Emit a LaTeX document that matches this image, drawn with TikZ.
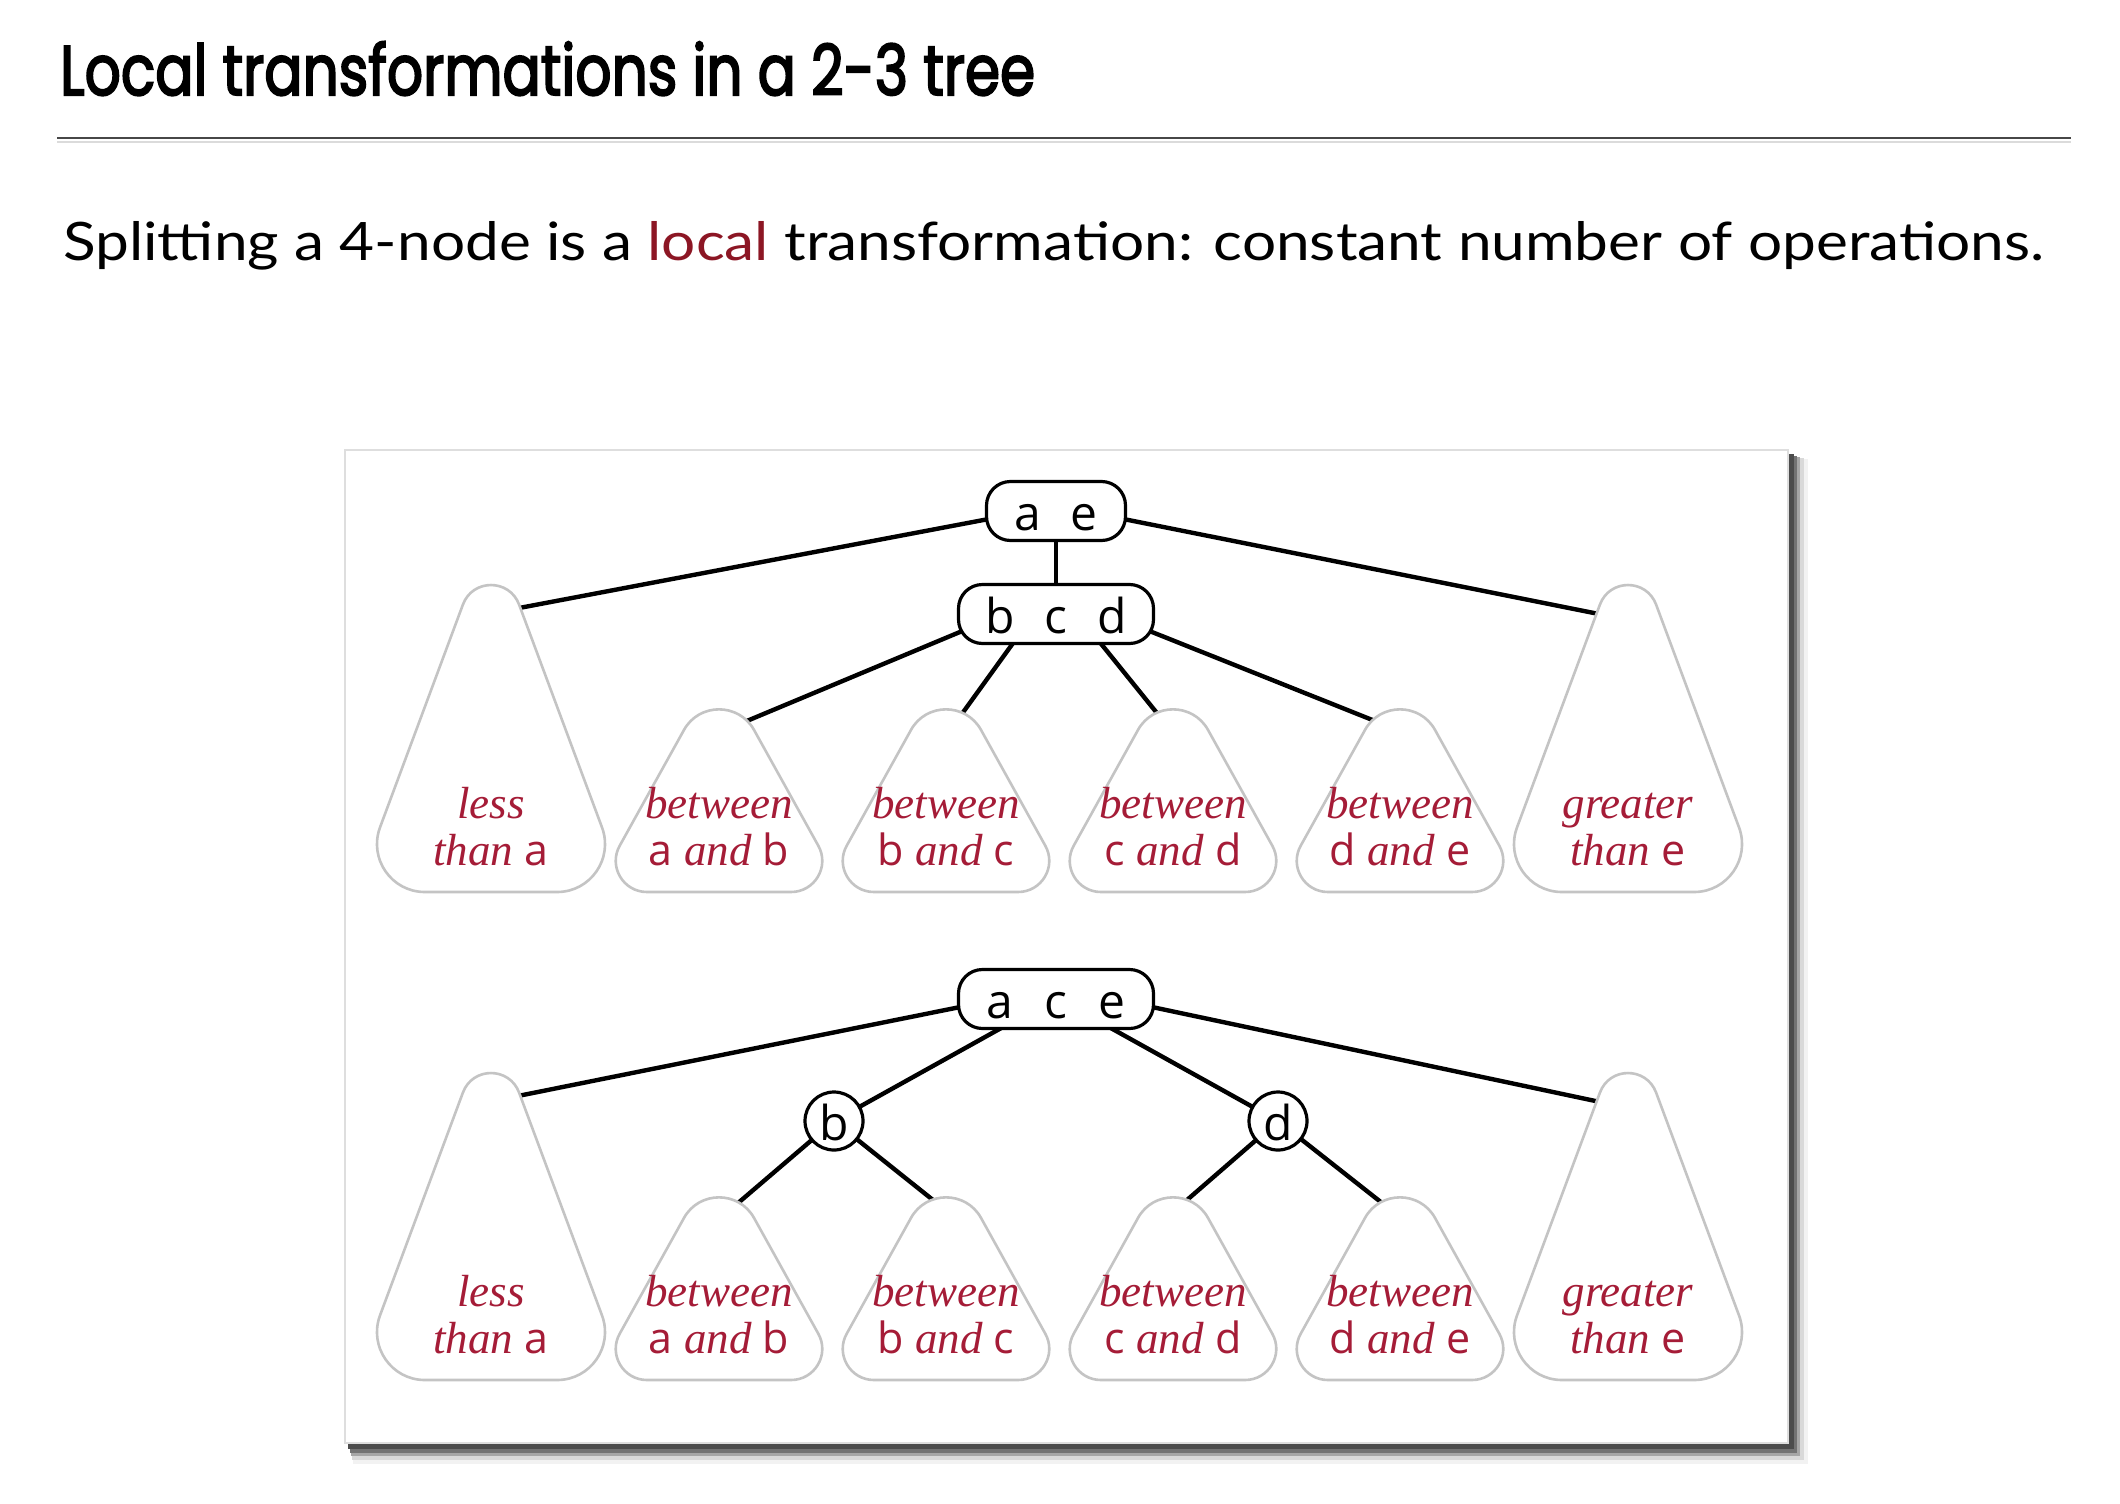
\documentclass[tikz,border=0pt]{standalone}
\usepackage{fontspec}
\setmainfont{Liberation Serif}
\newfontfamily\titlefont{Poppins}[FakeBold=3]
\newfontfamily\bodyfont{Lato}
\newfontfamily\keyfont{Open Sans}
\definecolor{lblred}{RGB}{165,28,55}
\definecolor{locred}{RGB}{140,22,36}
\definecolor{blobgray}{RGB}{196,196,196}
\pgfdeclarelayer{back}
\pgfdeclarelayer{bg}
\pgfsetlayers{back,bg,main}
\newcommand{\ltr}[1]{{\keyfont\upshape\fontsize{43}{48}\selectfont #1}}
\newcommand{\itw}[1]{{\rmfamily\itshape #1}}
\newcommand{\smallblob}[2]{\filldraw[blob,shift={(#1,#2)}] (-72,0) -- (72,0) .. controls (95.8,0) and (110.9,-25.5) .. (99.3,-46.3) -- (35,-162.1) .. controls (19.8,-189.5) and (-19.8,-189.5) .. (-35,-162.1) -- (-99.3,-46.3) .. controls (-110.9,-25.5) and (-95.8,0) .. (-72,0) -- cycle;}
\newcommand{\bigblob}[2]{\filldraw[blob,shift={(#1,#2)}] (-66.1,0) -- (66.1,0) .. controls (99.5,0) and (122.6,-33.3) .. (111,-64.6) -- (28.1,-287.4) .. controls (18.4,-313.5) and (-18.4,-313.5) .. (-28.1,-287.4) -- (-111,-64.6) .. controls (-122.6,-33.3) and (-99.5,0) .. (-66.1,0) -- cycle;}
\newcommand{\blobtext}[5]{\node[lbl] (#1a) at (#2,#3) {#4}; \node[lbl] (#1b) at (#2,#3+47) {#5};}
\begin{document}
\begin{tikzpicture}[x=1pt,y=-1pt,
  key/.style={draw=black, line width=3.2pt, fill=white, rounded corners=24pt, minimum height=59pt, inner sep=0pt, text height=39pt, text depth=0pt, font=\keyfont\fontsize{48}{54}\selectfont},
  kcirc/.style={draw=black, line width=3.2pt, fill=white, circle, minimum size=58pt, inner sep=0pt, text height=39pt, text depth=0pt, font=\keyfont\fontsize{48}{54}\selectfont},
  conn/.style={line width=4.4pt, black},
  blob/.style={draw=blobgray, line width=2.6pt, fill=white},
  lbl/.style={anchor=base, inner sep=0pt, text=lblred, font=\rmfamily\fontsize{45}{50}\selectfont\itshape}]
\useasboundingbox (0,0) rectangle (2120,1504);

\begin{pgfonlayer}{back}
\fill[white] (0,0) rectangle (2120,1504);
\fill[black!5] (353,459) rectangle (1808,1464);
\fill[black!15] (352,458) rectangle (1804,1460);
\fill[black!35] (351,457) rectangle (1800,1456);
\fill[black!55] (350,456) rectangle (1797,1453);
\fill[black!70] (348,454) rectangle (1794,1449);
\filldraw[fill=white, draw=black!13, line width=2pt] (345,450) rectangle (1788,1443);
\draw[line width=2.8pt, black!72] (57,138) -- (2071,138);
\draw[line width=2pt, black!14] (57,141.5) -- (2071,141.5);
\end{pgfonlayer}

% title and subtitle
\node[anchor=base west, inner sep=0pt] (title) at (60,95)
  {\resizebox{975pt}{\height}{\titlefont\fontsize{70}{80}\selectfont Local transformations in a 2-3 tree}};
\node[anchor=base west, inner sep=0pt] (sub) at (63,260)
  {\resizebox{1981pt}{\height}{\bodyfont\fontsize{53}{60}\selectfont Splitting a 4-node is a \textcolor{locred}{local} transformation: constant number of operations.}};

% ---------- top tree ----------
\bigblob{491}{892}
\smallblob{719}{892}
\smallblob{946}{892}
\smallblob{1173}{892}
\smallblob{1400}{892}
\bigblob{1628}{892}

\node[key, minimum width=139pt] (ae) at (1056,511) {\makebox[56pt]{a}\makebox[56pt]{e}};
\node[key, minimum width=195pt] (bcd) at (1056,614) {\makebox[56pt]{b}\makebox[56pt]{c}\makebox[56pt]{d}};

\coordinate (tL) at (498,612);
\coordinate (tR) at (1619,618);
\coordinate (t1) at (730,728);
\coordinate (t2) at (951,729);
\coordinate (t3) at (1169,728);
\coordinate (t4) at (1390,727);

\blobtext{ta}{491}{818}{\itw{less}}{\itw{than} \ltr{a}}
\blobtext{tb}{719}{818}{\itw{between}}{\ltr{a} \itw{and} \ltr{b}}
\blobtext{tc}{946}{818}{\itw{between}}{\ltr{b} \itw{and} \ltr{c}}
\blobtext{td}{1173}{818}{\itw{between}}{\ltr{c} \itw{and} \ltr{d}}
\blobtext{te}{1400}{818}{\itw{between}}{\ltr{d} \itw{and} \ltr{e}}
\blobtext{tf}{1628}{818}{\itw{greater}}{\itw{than} \ltr{e}}

% ---------- bottom tree ----------
\bigblob{491}{1380}
\smallblob{719}{1380}
\smallblob{946}{1380}
\smallblob{1173}{1380}
\smallblob{1400}{1380}
\bigblob{1628}{1380}

\node[key, minimum width=195pt] (ace) at (1056,999) {\makebox[56pt]{a}\makebox[56pt]{c}\makebox[56pt]{e}};
\node[kcirc] (b) at (834,1121) {b};
\node[kcirc] (d) at (1278,1121) {d};

\coordinate (uL) at (498,1100);
\coordinate (uR) at (1619,1106);
\coordinate (u1) at (724,1215);
\coordinate (u2) at (948,1212);
\coordinate (u3) at (1172,1213);
\coordinate (u4) at (1396,1214);

\blobtext{ua}{491}{1306}{\itw{less}}{\itw{than} \ltr{a}}
\blobtext{ub}{719}{1306}{\itw{between}}{\ltr{a} \itw{and} \ltr{b}}
\blobtext{uc}{946}{1306}{\itw{between}}{\ltr{b} \itw{and} \ltr{c}}
\blobtext{ud}{1173}{1306}{\itw{between}}{\ltr{c} \itw{and} \ltr{d}}
\blobtext{ue}{1400}{1306}{\itw{between}}{\ltr{d} \itw{and} \ltr{e}}
\blobtext{uf}{1628}{1306}{\itw{greater}}{\itw{than} \ltr{e}}

% ---------- connectors ----------
\begin{pgfonlayer}{bg}
\draw[conn, shorten <=-12pt] (ae.187) -- (tL);
\draw[conn, shorten <=-12pt] (ae.353) -- (tR);
\draw[conn, shorten <=-4pt, shorten >=-4pt] (ae.south) -- (bcd.north);
\draw[conn, shorten <=-12pt] (bcd.191) -- (t1);
\draw[conn, shorten <=-12pt] (bcd.215) -- (t2);
\draw[conn, shorten <=-12pt] (bcd.326) -- (t3);
\draw[conn, shorten <=-12pt] (bcd.349) -- (t4);

\draw[conn, shorten <=-12pt] (ace.185) -- (uL);
\draw[conn, shorten <=-12pt] (ace.355) -- (uR);
\draw[conn, shorten <=-12pt] (ace.208) -- (b.center);
\draw[conn, shorten <=-12pt] (ace.332) -- (d.center);
\draw[conn] (b.center) -- (u1);
\draw[conn] (b.center) -- (u2);
\draw[conn] (d.center) -- (u3);
\draw[conn] (d.center) -- (u4);
\end{pgfonlayer}
\end{tikzpicture}
\end{document}
